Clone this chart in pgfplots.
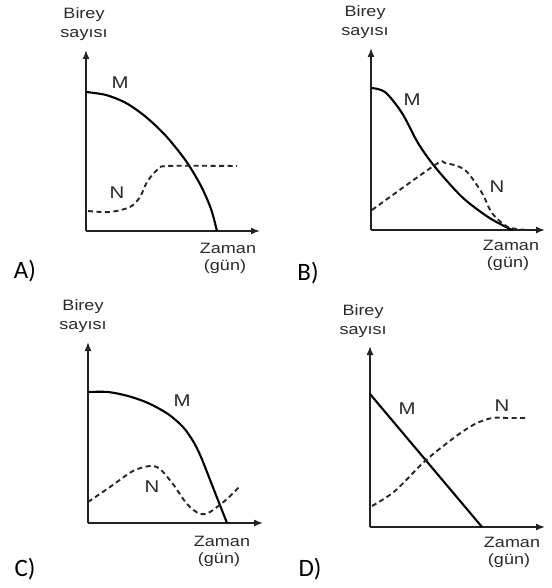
\documentclass[border=0pt]{standalone}
\usepackage{pgfplots}
\pgfplotsset{compat=1.18}
\usetikzlibrary{arrows.meta}
\usepackage{fontspec}
\setmainfont{Liberation Sans}
\newfontfamily\optfont{Carlito}
\definecolor{axgray}{HTML}{222222}
\definecolor{txtgray}{HTML}{2A2A2A}

\pgfplotsset{
    panel/.style={
        anchor=south west, scale only axis,
        xmin=0, ymin=0,
        axis x line=bottom, axis y line=left,
        xtick=\empty, ytick=\empty,
        axis line style={axgray, line width=1.5pt, -{Latex[length=9pt,width=7pt]}},
        clip=false
    },
    Mline/.style={black, line width=2.1pt, smooth, no markers},
    Nline/.style={black!85, line width=1.9pt, smooth, no markers, dash pattern=on 5pt off 3.5pt},
}
\newcommand{\lbl}[1]{\scalebox{1.2}[1]{\fontsize{15}{16}\selectfont #1}}
\newcommand{\crv}[1]{\scalebox{1.2}[1]{\fontsize{17}{18}\selectfont #1}}
\newcommand{\opt}[1]{{\optfont\fontsize{25}{26}\selectfont #1}}

\begin{document}
\begin{tikzpicture}
\useasboundingbox (0,0) rectangle (551pt,-588pt);

% ---------- A ----------
\begin{axis}[panel, at={(86pt,-231pt)}, width=174pt, height=181pt, xmax=174, ymax=181]
    \addplot[Mline] coordinates {
        (0,139) (20,136) (40,128) (60,114) (80,95) (100,70) (115,45) (125,22) (131,0)
    };
    \addplot[Nline] coordinates {
        (2,20) (24,19) (44,24) (54,34) (61,49) (71,61) (81,65) (151,65)
    };
    \node[txtgray] at (axis cs:34,148) {\crv{M}};
    \node[txtgray] at (axis cs:31,38) {\crv{N}};
\end{axis}

% ---------- B ----------
\begin{axis}[panel, at={(371pt,-230pt)}, width=174pt, height=182pt, xmax=174, ymax=182]
    \addplot[Mline] coordinates {
        (0,142) (14,138) (31,117) (47,87) (64,63) (91,33) (117,13) (137,2) (142,0)
    };
    \addplot[Nline] coordinates {
        (1,20) (64,65) (74,67) (94,60) (111,37) (121,17) (137,3) (157,0)
    };
    \node[txtgray] at (axis cs:41,130) {\crv{M}};
    \node[txtgray] at (axis cs:126,43) {\crv{N}};
\end{axis}

% ---------- C ----------
\begin{axis}[panel, at={(88pt,-523pt)}, width=175pt, height=181pt, xmax=175, ymax=181]
    \addplot[Mline] coordinates {
        (0,131) (20,131) (40,127) (60,120) (80,109) (95,96) (105,82) (113,66) (126,33) (139,0)
    };
    \addplot[Nline] coordinates {
        (0,21) (22,36) (45,52) (62,57) (72,54) (85,39) (99,19) (112,9) (122,11) (139,24) (152,37)
    };
    \node[txtgray] at (axis cs:94,122) {\crv{M}};
    \node[txtgray] at (axis cs:64,36) {\crv{N}};
\end{axis}

% ---------- D ----------
\begin{axis}[panel, at={(370pt,-527pt)}, width=175pt, height=181pt, xmax=175, ymax=181]
    \addplot[Mline, sharp plot] coordinates {
        (0,133) (112,0)
    };
    \addplot[Nline] coordinates {
        (2,21) (25,36) (55,66) (85,90) (105,103) (122,109) (138,109) (155,109)
    };
    \node[txtgray] at (axis cs:37,118) {\crv{M}};
    \node[txtgray] at (axis cs:132,121) {\crv{N}};
\end{axis}

% axis titles and option letters
\foreach \bx/\by/\zx/\zy in {84/15/228/248, 365/13/511/245, 83/307/222/541, 363/312/512/542}{
    \node[txtgray] at (\bx pt,-\by pt) {\lbl{Birey}};
    \node[txtgray] at (\bx pt,-\by pt-20pt) {\lbl{sayısı}};
    \node[txtgray] at (\zx pt,-\zy pt) {\lbl{Zaman}};
    \node[txtgray] at (\zx pt-3pt,-\zy pt-19pt) {\lbl{(gün)}};
}
\node at (25pt,-271pt) {\opt{A)}};
\node at (308pt,-273pt) {\opt{B)}};
\node at (25pt,-569pt) {\opt{C)}};
\node at (310pt,-569pt) {\opt{D)}};
\end{tikzpicture}
\end{document}
